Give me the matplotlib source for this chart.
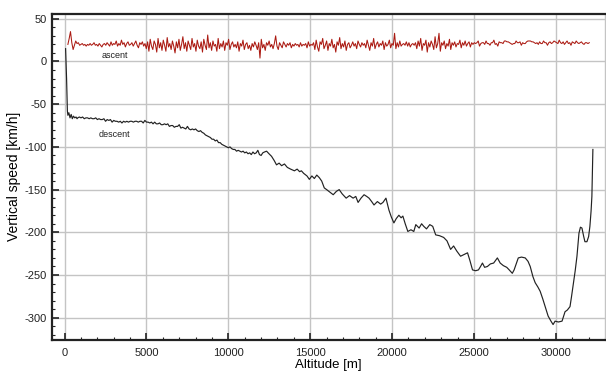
import numpy as np
import matplotlib
matplotlib.use("Agg")
import matplotlib.pyplot as plt
from matplotlib.ticker import MultipleLocator

plt.rcParams['font.family'] = ['Liberation Sans', 'DejaVu Sans']
plt.rcParams['axes.unicode_minus'] = False

# ---- data ----
ascent_alt_start = 200
ascent_alt_end = 32040
ascent_speed = [
    # 200 - 5000 m
    20, 27, 35, 22, 14, 19, 24, 21, 22, 19, 20, 21, 19, 20, 18, 20, 19, 21, 19, 20,
    22, 19, 20, 18, 21, 19, 17, 20, 21, 19, 22, 20, 18, 23, 19, 21, 20, 24, 18, 21,
    19, 25, 20, 22, 17, 21, 23, 19, 20, 22, 18, 21, 24, 19, 16, 22, 20, 23, 18, 21,
    # 5000 - 10400 m
    15, 23, 12, 26, 18, 14, 24, 20, 11, 27, 16, 22, 13, 25, 19, 12, 28, 17, 21, 14,
    24, 18, 10, 23, 16, 26, 13, 20, 29, 15, 22, 12, 24, 19, 14, 27, 17, 21, 12, 25,
    18, 15, 23, 11, 26, 19, 14, 31, 16, 22, 13, 24, 18, 20, 12, 27, 15, 21, 17, 24,
    13, 22, 19, 26, 14, 20, 23, 17,
    # 10400 - 21400 m
    20, 16, 23, 12, 21, 18, 25, 14, 20, 22, 15, 19, 13, 21, 17, 23, 19, 14, 22, 4,
    26, 16, 20, 13, 22, 19, 24, 17, 20, 15, 21, 30, 18, 14, 22, 19, 16, 23, 20, 17,
    21, 19, 22, 16, 20, 18, 21, 19, 20, 17, 22, 18, 20, 19, 21, 16, 23, 18, 20, 19,
    22, 14, 25, 17, 12, 23, 20, 27, 15, 19, 24, 13, 21, 18, 26, 16, 20, 11, 23, 19,
    28, 15, 21, 17, 24, 13, 20, 22, 16, 19, 23, 18, 21, 15, 24, 20, 17, 22, 19, 21,
    16, 25, 19, 13, 22, 18, 27, 15, 20, 23, 17, 21, 19, 24, 14, 22, 18, 20, 25, 16,
    21, 19, 33, 15, 22, 17, 24, 18, 20, 21, 19, 23, 18, 22, 17, 20, 21, 19,
    # 21400 - 25000 m
    22, 15, 24, 18, 27, 13, 21, 19, 25, 11, 22, 17, 24, 20, 14, 29, 16, 21, 33, 12,
    22, 19, 24, 15, 21, 18, 26, 14, 22, 19, 23, 17, 21, 20, 25, 16, 22, 19, 24, 18,
    21, 23, 17, 22, 20,
    # 25000 - 32040 m
    22, 21, 22, 24, 18, 21, 22, 22, 20, 24, 21, 21, 19, 22, 22, 25, 20, 21, 18, 23,
    22, 22, 21, 24, 24, 23, 23, 22, 21, 20, 21, 21, 24, 22, 22, 23, 19, 22, 21, 21,
    23, 24, 24, 24, 23, 23, 22, 21, 22, 20, 23, 21, 21, 24, 22, 22, 19, 22, 23, 21,
    22, 24, 23, 22, 21, 25, 22, 21, 23, 20, 22, 24, 21, 22, 19, 23, 22, 21, 24, 22,
    21, 22, 23, 21, 20, 22, 22, 21, 22,
]

descent_alt = [
    60, 120, 170, 200, 260, 330, 400, 470, 540, 620, 700, 760, 800, 900, 1000,
    1100, 1200, 1300, 1400, 1500, 1600, 1700, 1800, 1900, 2000, 2100, 2200, 2300,
    2400, 2500, 2600, 2700, 2800, 2900, 3000, 3100, 3200, 3300, 3400, 3500, 3600,
    3700, 3800, 3900, 4000, 4100, 4200, 4300, 4400, 4500, 4600, 4700, 4800, 4900,
    5000, 5100, 5200, 5300, 5400, 5500, 5600, 5700, 5800, 5900, 6000, 6100, 6200,
    6300, 6400, 6500, 6600, 6700, 6800, 6900, 7000, 7100, 7200, 7300, 7400, 7500,
    7600, 7700, 7800, 7900, 8000, 8100, 8200, 8300, 8400, 8500, 8600, 8700, 8800,
    8900, 9000, 9100, 9200, 9300, 9400, 9500, 9600, 9700, 9800, 9900, 10000,
    10100, 10200, 10300, 10400, 10500, 10600, 10700, 10800, 10900, 11000, 11100,
    11200, 11300, 11400, 11500, 11600, 11700, 11800, 11900, 12000, 12100, 12200,
    12333, 12480, 12637, 12800,
    12940, 13100, 13250, 13426, 13600, 13800, 14034, 14200, 14350, 14459, 14600,
    14800, 14945, 15100, 15250, 15400, 15553, 15700, 15857, 16000, 16200, 16403,
    16600, 16768, 16950, 17100, 17193, 17400, 17618, 17780, 17922, 18100, 18287,
    18450, 18591, 18750, 18894, 19100, 19300, 19441, 19623, 19806, 19950, 20109,
    20250, 20413, 20550, 20656, 20800, 20960, 21150, 21324, 21446, 21650, 21800,
    21932, 22100, 22300, 22479, 22661, 22900, 23147, 23350, 23572, 23755, 23950,
    24180, 24400, 24605, 24750, 24909, 25100, 25273, 25400, 25516, 25650, 25820,
    26000, 26200, 26428, 26600, 26792, 27000, 27150, 27339, 27450, 27521, 27704,
    27900, 28129, 28300, 28433, 28600, 28737, 28900, 29040, 29200, 29344, 29526,
    29700, 29830, 29951, 30150, 30377, 30480, 30559, 30700, 30863, 30950, 31045,
    31180, 31288, 31410, 31500, 31592, 31700, 31774, 31896, 32000, 32078, 32150,
    32199, 32260,
]
descent_speed = [
    15, -20, -58, -63, -60, -66, -62, -67, -64, -66, -65, -67, -66, -65, -66,
    -65, -67, -66, -66, -67, -66, -67, -67, -66, -68, -67, -68, -68,
    -67, -70, -68, -69, -68, -71, -69, -70, -70, -71, -70, -72, -70,
    -71, -70, -71, -70, -70, -71, -70, -70, -71, -70, -70, -72, -69,
    -71, -71, -72, -71, -73, -71, -73, -73, -72, -74, -74, -73, -74,
    -73, -76, -75, -75, -77, -76, -76, -74, -78, -77, -78, -79, -76,
    -79, -80, -79, -80, -79, -81, -82, -81, -83, -84, -86, -87, -88,
    -89, -91, -91, -93, -92, -95, -95, -97, -98, -99, -100, -101,
    -100, -102, -103, -103, -105, -104, -105, -106, -105, -107, -106,
    -108, -107, -109, -106, -108, -107, -104, -109, -110, -107, -106,
    -105, -108, -111, -116,
    -121, -119, -122, -120, -124, -126, -128, -126, -129, -128, -131,
    -134, -138, -134, -137, -133, -136, -140, -148, -150, -153, -156,
    -152, -150, -155, -158, -160, -157, -160, -158, -165, -160, -156,
    -158, -160, -164, -168, -164, -167, -165, -160, -174, -182, -189,
    -184, -180, -183, -181, -190, -199, -197, -199, -191, -195, -190,
    -193, -196, -191, -193, -203, -204, -206, -210, -220, -216, -222,
    -228, -226, -224, -233, -244, -245, -244, -240, -236, -241, -240,
    -237, -236, -230, -236, -239, -241, -244, -248, -244, -240, -230,
    -229, -230, -234, -240, -252, -259, -264, -269, -278, -287, -298,
    -304, -308, -304, -305, -304, -298, -293, -291, -287, -276, -263,
    -245, -228, -201, -194, -195, -205, -211, -211, -205, -193, -175,
    -158, -103,
]
assert len(descent_alt) == len(descent_speed)

ascent_alt = np.linspace(ascent_alt_start, ascent_alt_end, len(ascent_speed))

# ---- figure ----
fig = plt.figure(figsize=(6.06, 3.72), dpi=100)
ax = fig.add_axes([52 / 606, 1 - 339.5 / 372, (605 - 52) / 606, (339.5 - 14) / 372])

ax.plot(ascent_alt, ascent_speed, color='#ab1a12', lw=0.75)
ax.plot(descent_alt, descent_speed, color='#222222', lw=0.85)

ax.text(3100, 7, 'ascent', fontsize=6.5, ha='center', va='center', color='#222222')
ax.text(3050, -85, 'descent', fontsize=6.5, ha='center', va='center', color='#222222')

ax.set_xlim(-770, 33000)
ax.set_ylim(-325.5, 55.6)

ax.xaxis.set_major_locator(MultipleLocator(5000))
ax.xaxis.set_minor_locator(MultipleLocator(1000))
ax.yaxis.set_major_locator(MultipleLocator(50))
ax.yaxis.set_minor_locator(MultipleLocator(10))

ax.grid(True, which='major', color='#c4c4c4', lw=1.0)
ax.set_axisbelow(True)

ax.tick_params(which='both', direction='in', top=False, right=False, colors='#222222')
ax.tick_params(which='major', length=5, width=1.2, labelsize=8)
ax.tick_params(which='minor', length=2.5, width=0.8)
ax.tick_params(axis='x', which='major', pad=6)
ax.tick_params(axis='y', which='major', pad=4)

for side in ['left', 'bottom', 'top']:
    ax.spines[side].set_linewidth(1.6)
    ax.spines[side].set_color('#222222')
ax.spines['right'].set_color('#c4c4c4')
ax.spines['right'].set_linewidth(1.0)

ax.set_xlabel('Altitude [m]', fontsize=9.5, labelpad=1)
ax.set_ylabel('Vertical speed [km/h]', fontsize=10, labelpad=2)

fig.savefig('out.png', dpi=100)
